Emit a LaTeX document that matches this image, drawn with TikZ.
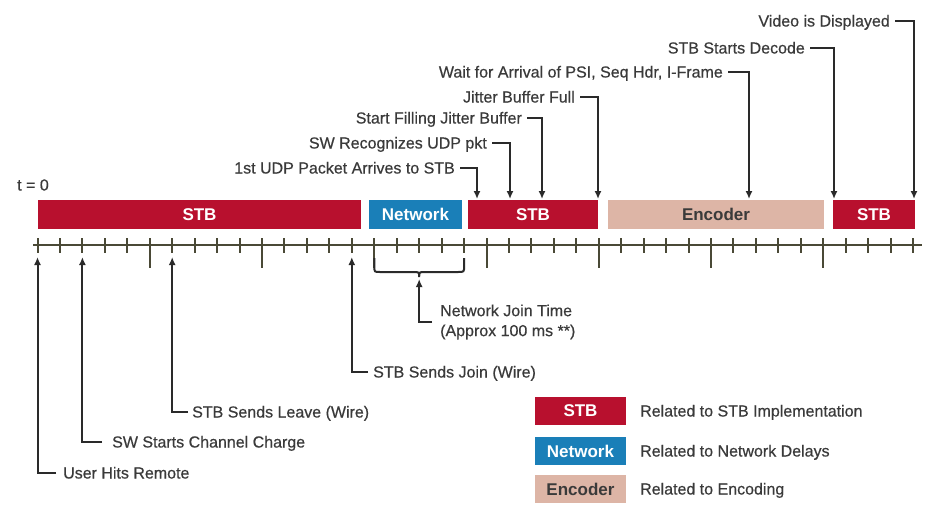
\documentclass[tikz,border=0pt]{standalone}
\usepackage{fontspec}
\setmainfont{Liberation Sans}
\newfontfamily\labfont{Liberation Sans}[FakeBold=0.45]
\usetikzlibrary{arrows.meta}
\definecolor{stbred}{HTML}{B8102E}
\definecolor{netblue}{HTML}{1A7FB8}
\definecolor{enctan}{HTML}{DDB5A6}
\definecolor{txt}{HTML}{3A3A3A}
\definecolor{ln}{HTML}{2A2A2A}
\definecolor{axisc}{HTML}{4A4936}
\begin{document}
\begin{tikzpicture}[x=1pt,y=-1pt,
  lab/.style={font=\labfont\fontsize{16}{20}\selectfont, text=txt, inner sep=0pt, text height=11pt, text depth=0pt},
  lab2/.style={font=\labfont\fontsize{16}{20}\selectfont, text=txt, inner sep=0pt, align=left},
  bar/.style={minimum height=29pt, inner sep=0pt, font=\fontsize{17}{19}\selectfont\bfseries, text=white},
  stbbar/.style={bar, fill=stbred},
  netbar/.style={bar, fill=netblue},
  encbar/.style={bar, fill=enctan, text=txt},
  arr/.style={draw=ln, line width=2pt, -{Latex[length=8pt,width=7pt]}},
  conn/.style={draw=ln, line width=2pt},
  tickline/.style={draw=axisc, line width=2pt},
]
\useasboundingbox[fill=white] (0,0) rectangle (926,507);

% bars
\node[stbbar, minimum width=323pt] (s1) at (199.5,214.5) {STB};
\node[netbar, minimum width=93pt] (n1) at (415.5,214.5) {Network};
\node[stbbar, minimum width=130pt] (s2) at (533,214.5) {STB};
\node[encbar, minimum width=216pt] (e1) at (716,214.5) {Encoder};
\node[stbbar, minimum width=82pt] (s3) at (874,214.5) {STB};

\node[lab, anchor=west] (t0) at (17,185) {t = 0};

% timeline
\draw[tickline] (33,245) -- (922,245);
\foreach \i in {0,...,39}{
  \pgfmathsetmacro{\xx}{37.5+22.45*\i}
  \pgfmathtruncatemacro{\mm}{mod(\i,5)}
  \ifnum\mm=0
    \ifnum\i>0
      \draw[tickline] (\xx,238) -- (\xx,268);
    \else
      \draw[tickline] (\xx,238) -- (\xx,253);
    \fi
  \else
    \draw[tickline] (\xx,238) -- (\xx,253);
  \fi
}

% top labels
\node[lab, anchor=east] (u1) at (455,168) {1st UDP Packet Arrives to STB};
\node[lab, anchor=east] (u2) at (487,143) {SW Recognizes UDP pkt};
\node[lab, anchor=east] (u3) at (522,118) {Start Filling Jitter Buffer};
\node[lab, anchor=east] (u4) at (575,97) {Jitter Buffer Full};
\node[lab, anchor=east] (u5) at (723,72) {Wait for Arrival of PSI, Seq Hdr, I-Frame};
\node[lab, anchor=east] (u6) at (805,48) {STB Starts Decode};
\node[lab, anchor=east] (u7) at (890,21) {Video is Displayed};

\coordinate (p1) at (477,199);
\coordinate (p2) at (510,199);
\coordinate (p3) at (542,199);
\coordinate (p4) at (598,199);
\coordinate (p5) at (749,199);
\coordinate (p6) at (834,199);
\coordinate (p7) at (914,199);

\draw[arr] ([xshift=5pt]u1.east) -| (p1);
\draw[arr] ([xshift=5pt]u2.east) -| (p2);
\draw[arr] ([xshift=5pt]u3.east) -| (p3);
\draw[arr] ([xshift=5pt]u4.east) -| (p4);
\draw[arr] ([xshift=5pt]u5.east) -| (p5);
\draw[arr] ([xshift=5pt]u6.east) -| (p6);
\draw[arr] ([xshift=5pt]u7.east) -| (p7);

% bottom labels
\node[lab, anchor=west] (b1) at (63,473) {User Hits Remote};
\node[lab, anchor=west] (b2) at (112,442) {SW Starts Channel Charge};
\node[lab, anchor=west] (b3) at (192,412) {STB Sends Leave (Wire)};
\node[lab, anchor=west] (b4) at (373,372) {STB Sends Join (Wire)};
\node[lab2, anchor=west] (b5) at (440,322) {Network Join Time\\(Approx 100 ms **)};

\coordinate (q1) at (37.5,257);
\coordinate (q2) at (82.4,257);
\coordinate (q3) at (172.2,257);
\coordinate (q4) at (351.8,257);
\coordinate (q5) at (419.2,279);

\draw[arr] ([xshift=-7pt]b1.west) -| (q1);
\draw[arr] ([xshift=-10pt]b2.west) -| (q2);
\draw[arr] ([xshift=-4pt]b3.west) -| (q3);
\draw[arr] ([xshift=-5pt]b4.west) -| (q4);
\draw[arr] ([xshift=-8pt]b5.west) -| (q5);

% brace
\draw[conn] (374.3,258) -- (374.3,266) .. controls (374.3,272) .. (380,272) -- (413,272)
  .. controls (419.2,272) .. (419.2,277) .. controls (419.2,272) .. (425,272) -- (458,272)
  .. controls (464.1,272) .. (464.1,266) -- (464.1,258);

% legend
\node[stbbar, minimum width=91pt, minimum height=28pt] (g1) at (580.5,411) {STB};
\node[netbar, minimum width=91pt, minimum height=28pt] (g2) at (580.5,451) {Network};
\node[encbar, minimum width=91pt, minimum height=28pt] (g3) at (580.5,489) {Encoder};
\node[lab, anchor=west] (h1) at (640,411) {Related to STB Implementation};
\node[lab, anchor=west] (h2) at (640,451) {Related to Network Delays};
\node[lab, anchor=west] (h3) at (640,489) {Related to Encoding};
\end{tikzpicture}
\end{document}
